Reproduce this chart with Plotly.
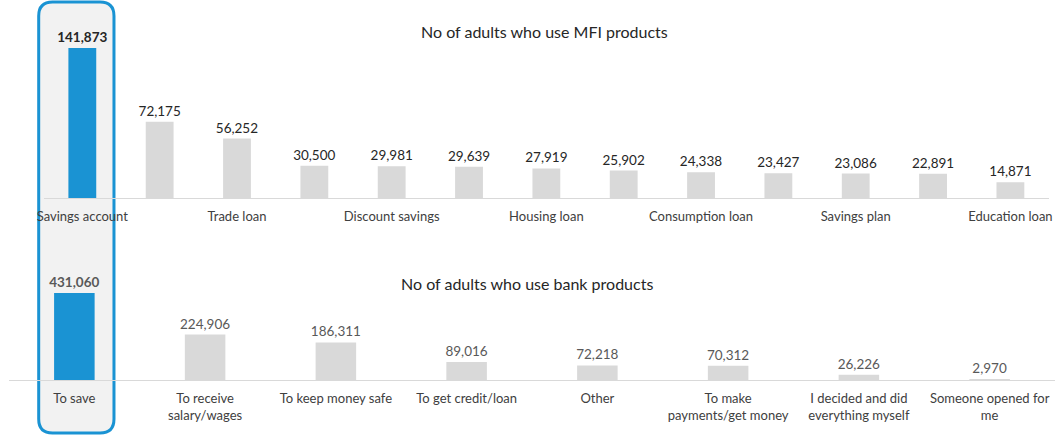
import plotly.graph_objects as go

# --- data -------------------------------------------------------------
mfi_title = "No of adults who use MFI products"
mfi_labels = ["Savings account", "", "Trade loan", "", "Discount savings", "",
              "Housing loan", "", "Consumption loan", "", "Savings plan", "",
              "Education loan"]
mfi_values = [141873, 72175, 56252, 30500, 29981, 29639, 27919, 25902,
              24338, 23427, 23086, 22891, 14871]

bank_title = "No of adults who use bank products"
bank_labels = ["To save", "To receive<br>salary/wages", "To keep money safe",
               "To get credit/loan", "Other", "To make<br>payments/get money",
               "I decided and did<br>everything myself", "Someone opened for<br>me"]
bank_values = [431060, 224906, 186311, 89016, 72218, 70312, 26226, 2970]

highlight_index = 0

# --- styling ------------------------------------------------------------
W, H = 1060, 436
FONT = "Lato, 'Open Sans', sans-serif"
BLUE = "#1a93d3"
GREY = "#d9d9d9"
AXIS = "#d9d9d9"
TEXT = "#404040"


def px_x(p):
    return p / W


def px_y(p):
    return 1 - p / H


def bar_colors(n):
    return [BLUE if i == highlight_index else GREY for i in range(n)]


def value_text(vals):
    out = []
    for i, v in enumerate(vals):
        s = f"{v:,}"
        out.append(f"<b>{s}</b>" if i == highlight_index else s)
    return out


fig = go.Figure()

fig.add_trace(go.Bar(
    x=list(range(len(mfi_values))), y=mfi_values, width=0.36,
    marker=dict(color=bar_colors(len(mfi_values)), line_width=0),
    text=value_text(mfi_values), textposition="outside", cliponaxis=False,
    constraintext="none",
    textfont=dict(family=FONT, size=13.5, color="#262626"),
    xaxis="x", yaxis="y", hoverinfo="skip",
))
fig.add_trace(go.Bar(
    x=list(range(len(bank_values))), y=bank_values, width=0.31,
    marker=dict(color=bar_colors(len(bank_values)), line_width=0),
    text=value_text(bank_values), textposition="outside", cliponaxis=False,
    constraintext="none",
    textfont=dict(family=FONT, size=13.5, color="#595959"),
    xaxis="x2", yaxis="y2", hoverinfo="skip",
))

# plot areas placed by pixel position of the baselines
top_base, top_top = 198, 10
bot_base, bot_top = 380, 270
top_max = mfi_values[0] * (top_base - top_top) / 150
bot_max = bank_values[0] * (bot_base - bot_top) / 87

axis_common = dict(showgrid=False, zeroline=False, showline=True,
                   linecolor=AXIS, linewidth=1, ticks="",
                   tickfont=dict(family=FONT, size=13, color=TEXT),
                   fixedrange=True)

fig.update_layout(
    width=W, height=H,
    margin=dict(l=0, r=0, t=0, b=0),
    paper_bgcolor="white", plot_bgcolor="rgba(0,0,0,0)",
    showlegend=False,
    xaxis=dict(axis_common, domain=[px_x(37), px_x(1052)], anchor="y",
               range=[-0.5, len(mfi_values) - 0.5],
               tickmode="array", tickvals=list(range(len(mfi_labels))),
               ticktext=mfi_labels, ticklabelstandoff=6),
    yaxis=dict(domain=[px_y(top_base), px_y(top_top)], range=[0, top_max],
               visible=False, fixedrange=True),
    xaxis2=dict(axis_common, domain=[px_x(2), px_x(1058)], anchor="y2",
                range=[-0.5, len(bank_values) - 0.5],
                tickmode="array", tickvals=list(range(len(bank_labels))),
                ticktext=bank_labels, ticklabelstandoff=6),
    yaxis2=dict(domain=[px_y(bot_base), px_y(bot_top)], range=[0, bot_max],
                visible=False, fixedrange=True),
)

# chart titles
fig.add_annotation(text=mfi_title, xref="paper", yref="paper",
                   x=px_x(543), y=px_y(20), showarrow=False,
                   font=dict(family=FONT, size=16, color="#262626"))
fig.add_annotation(text=bank_title, xref="paper", yref="paper",
                   x=px_x(525), y=px_y(283), showarrow=False,
                   font=dict(family=FONT, size=16, color="#262626"))

# rounded highlight frame around the first column of both panels
x0, x1, y0, y1, r = 32, 108, 2, 433, 14
path = (
    f"M {px_x(x0 + r)} {px_y(y0)} "
    f"L {px_x(x1 - r)} {px_y(y0)} "
    f"Q {px_x(x1)} {px_y(y0)} {px_x(x1)} {px_y(y0 + r)} "
    f"L {px_x(x1)} {px_y(y1 - r)} "
    f"Q {px_x(x1)} {px_y(y1)} {px_x(x1 - r)} {px_y(y1)} "
    f"L {px_x(x0 + r)} {px_y(y1)} "
    f"Q {px_x(x0)} {px_y(y1)} {px_x(x0)} {px_y(y1 - r)} "
    f"L {px_x(x0)} {px_y(y0 + r)} "
    f"Q {px_x(x0)} {px_y(y0)} {px_x(x0 + r)} {px_y(y0)} Z"
)
fig.add_shape(type="path", path=path, xref="paper", yref="paper",
              fillcolor="#f2f2f2", line=dict(color=BLUE, width=3),
              layer="below")

fig.write_html("out.html", config={"displayModeBar": False})
